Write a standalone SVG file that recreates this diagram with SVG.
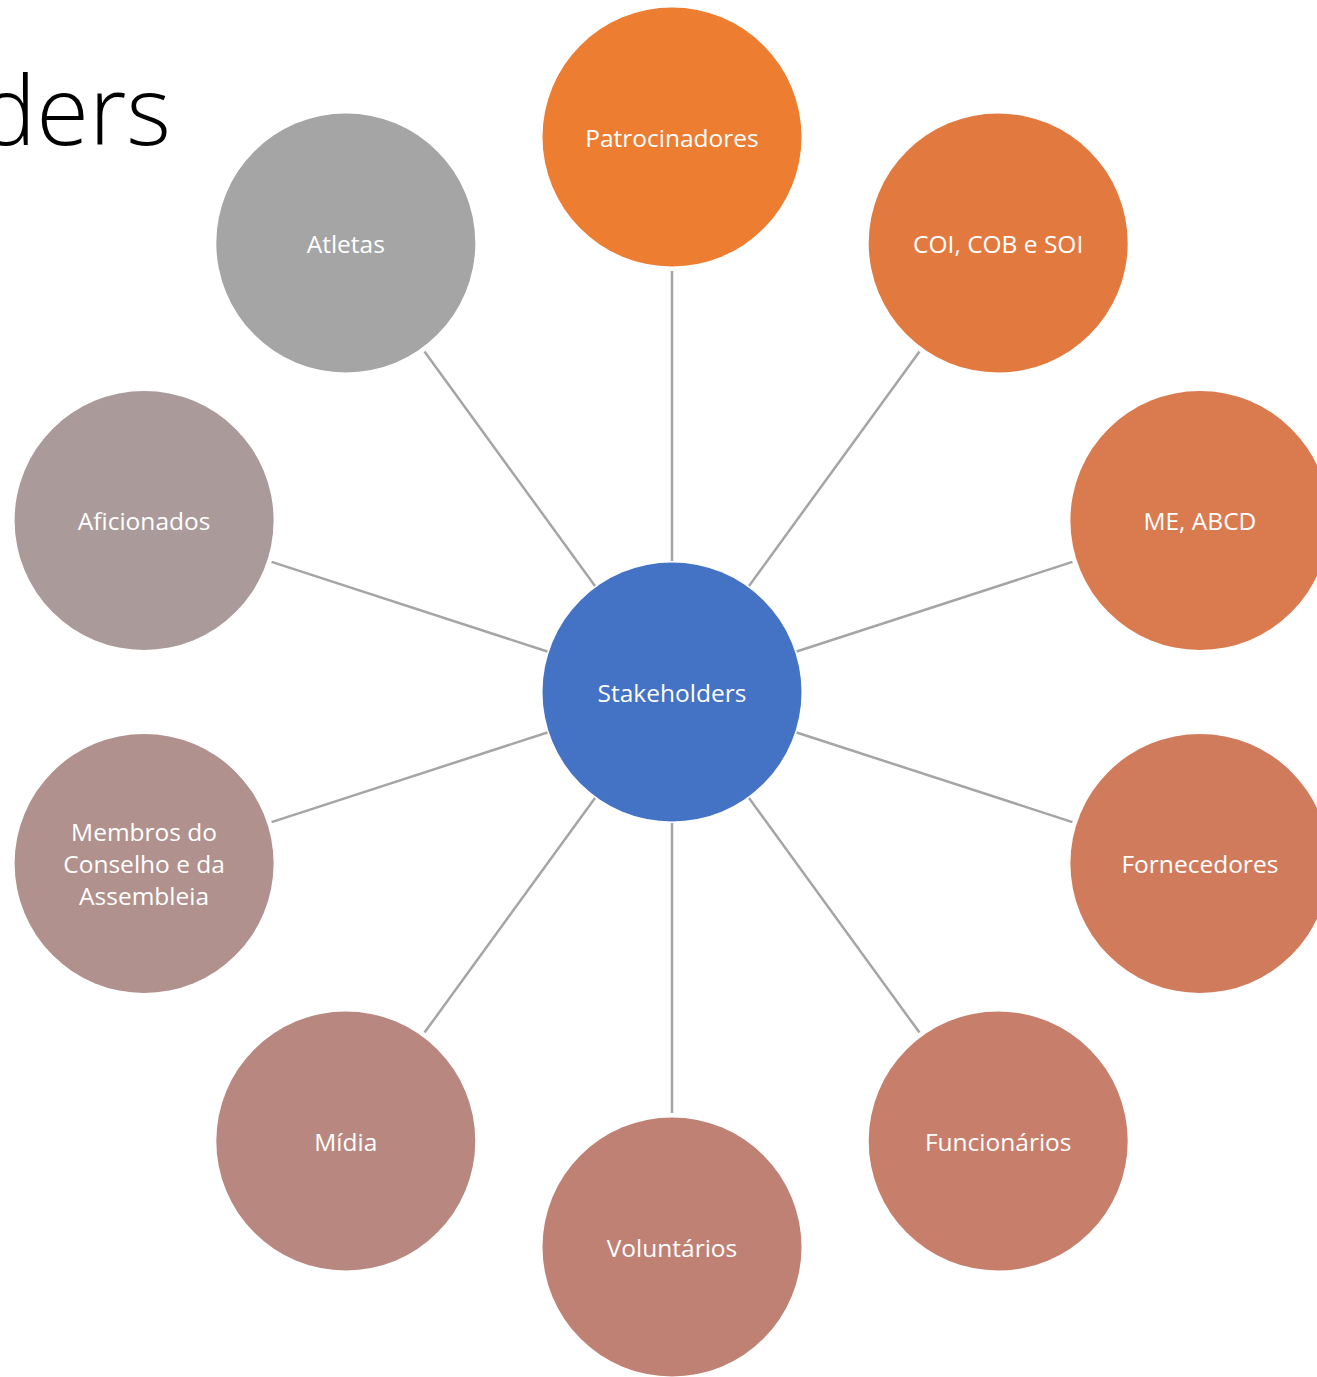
<svg xmlns="http://www.w3.org/2000/svg" width="1317" height="1377" viewBox="0 0 1317 1377">
<style>
.lbl{font-family:"Open Sans","Noto Sans","Liberation Sans",sans-serif;font-size:24.5px;fill:#ffffff;text-anchor:middle;dominant-baseline:central}
.title{font-family:"Open Sans","Noto Sans","Liberation Sans",sans-serif;font-weight:300;font-size:96px;fill:#000000;text-anchor:end}
.con line{stroke:#A5A5A5;stroke-width:2.5}
</style>
<rect width="1317" height="1377" fill="#ffffff"/>
<text class="title" x="171" y="145">ders</text>
<g class="con" id="connectors">
<line x1="672" y1="561" x2="672" y2="271"/>
<line x1="749" y1="586" x2="919.5" y2="351.4"/>
<line x1="796.6" y1="651.5" x2="1072.4" y2="561.9"/>
<line x1="796.6" y1="732.5" x2="1072.4" y2="822.1"/>
<line x1="749" y1="798" x2="919.5" y2="1032.6"/>
<line x1="672" y1="823" x2="672" y2="1113"/>
<line x1="595" y1="798" x2="424.5" y2="1032.6"/>
<line x1="547.4" y1="732.5" x2="271.6" y2="822.1"/>
<line x1="547.4" y1="651.5" x2="271.6" y2="561.9"/>
<line x1="595" y1="586" x2="424.5" y2="351.4"/>
</g>
<g id="center"><circle cx="672" cy="692" r="129.5" fill="#4472C4"/><text class="lbl" x="672" y="692">Stakeholders</text></g>
<g id="patrocinadores"><circle cx="672" cy="137" r="129.5" fill="#ED7D31"/><text class="lbl" x="672" y="137">Patrocinadores</text></g>
<g id="coi"><circle cx="998.2" cy="243" r="129.5" fill="#E27A40"/><text class="lbl" x="998.2" y="243">COI, COB e SOI</text></g>
<g id="me"><circle cx="1199.9" cy="520.5" r="129.5" fill="#DA7A4F"/><text class="lbl" x="1199.9" y="520.5">ME, ABCD</text></g>
<g id="fornecedores"><circle cx="1199.9" cy="863.5" r="129.5" fill="#D17B5D"/><text class="lbl" x="1199.9" y="863.5">Fornecedores</text></g>
<g id="funcionarios"><circle cx="998.2" cy="1141" r="129.5" fill="#C77E6B"/><text class="lbl" x="998.2" y="1141">Funcionários</text></g>
<g id="voluntarios"><circle cx="672" cy="1247" r="129.5" fill="#C08175"/><text class="lbl" x="672" y="1247">Voluntários</text></g>
<g id="midia"><circle cx="345.8" cy="1141" r="129.5" fill="#B88880"/><text class="lbl" x="345.8" y="1141">Mídia</text></g>
<g id="membros"><circle cx="144.1" cy="863.5" r="129.5" fill="#B0918D"/><text class="lbl" x="144.1" y="831.5">Membros do</text><text class="lbl" x="144.1" y="863.5">Conselho e da</text><text class="lbl" x="144.1" y="895.5">Assembleia</text></g>
<g id="aficionados"><circle cx="144.1" cy="520.5" r="129.5" fill="#AA9A99"/><text class="lbl" x="144.1" y="520.5">Aficionados</text></g>
<g id="atletas"><circle cx="345.8" cy="243" r="129.5" fill="#A5A5A5"/><text class="lbl" x="345.8" y="243">Atletas</text></g>
</svg>
